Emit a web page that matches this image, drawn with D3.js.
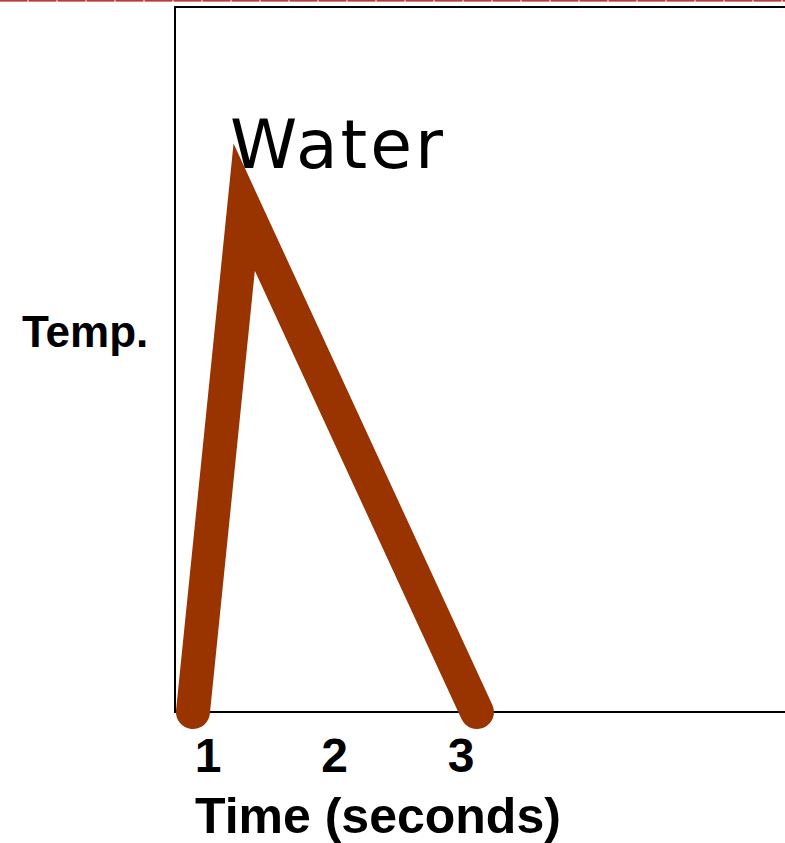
<!DOCTYPE html>
<html>
<head>
<meta charset="utf-8">
<script src="https://cdn.jsdelivr.net/npm/d3@7"></script>
<style>
  html, body { margin: 0; padding: 0; background: #fff; overflow: hidden; }
</style>
</head>
<body>
<div id="container"></div>
<script>
/* CONSTANTS AND GLOBALS */
const width = 785,
      height = 843,
      margin = {top: 7, bottom: 131, left: 175, right: 0};

/* DATA */
const timeValues = [0.885, 1.29, 3.13];
const tempValues = [0, 71.6, 0];
const tickLabels = [1, 2, 3];

const data = timeValues.map((t, i) => ({time: t, temp: tempValues[i]}));

/* APPEND SVG */
const svg = d3.select("#container")
  .append("svg")
    .attr("width", width)
    .attr("height", height);

/* TOP RULE */
svg.append("line")
  .attr("x1", 0).attr("x2", width)
  .attr("y1", 0.5).attr("y2", 0.5)
  .style("stroke", "#d89090")
  .style("stroke-width", 2);
svg.append("line")
  .attr("x1", 0).attr("x2", width)
  .attr("y1", 0.5).attr("y2", 0.5)
  .style("stroke", "#b83c3c")
  .style("stroke-width", 2)
  .style("stroke-dasharray", "27,2");

/* SCALES */
// 1 sits at x=207.5, 126.5px per second
const xScale = d3.scaleLinear()
  .domain([1 - 32.5 / 126.5, 1 + 577.5 / 126.5])
  .range([margin.left, width]);

const yScale = d3.scaleLinear()
  .domain([0, 100])
  .range([height - margin.bottom, margin.top]);

/* FRAME */
svg.append("rect")
  .attr("x", margin.left)
  .attr("y", margin.top)
  .attr("width", width - margin.left + 10)
  .attr("height", yScale(0) - margin.top)
  .style("fill", "none")
  .style("stroke", "#000")
  .style("stroke-width", 2);

/* X AXIS LABELS */
const xAxis = svg.append("g")
  .attr("transform", `translate(0,${yScale(0)})`)
  .call(d3.axisBottom(xScale).tickValues(tickLabels).tickSize(0).tickPadding(0).tickFormat(d3.format("d")));
xAxis.select(".domain").remove();
xAxis.selectAll("text")
  .attr("dy", null)
  .attr("y", 60)
  .style("font-family", "'Liberation Sans', Arial, sans-serif")
  .style("font-weight", "bold")
  .style("font-size", "48px")
  .style("fill", "#000");

/* LINE */
const line = d3.line()
  .x(d => xScale(d.time))
  .y(d => yScale(d.temp));

svg.append("path")
  .datum(data)
  .attr("d", line)
  .style("fill", "none")
  .style("stroke", "#993300")
  .style("stroke-width", 34)
  .style("stroke-linejoin", "miter")
  .style("stroke-miterlimit", 10)
  .style("stroke-linecap", "round");

/* TITLES */
svg.append("text")
  .attr("x", 230)
  .attr("y", 168)
  .style("font-family", "'DejaVu Sans', Verdana, sans-serif")
  .style("font-size", "68px")
  .style("letter-spacing", "3px")
  .style("fill", "#000")
  .text("Water");

svg.append("text")
  .attr("x", 22)
  .attr("y", 347)
  .style("font-family", "'Liberation Sans', Arial, sans-serif")
  .style("font-weight", "bold")
  .style("font-size", "44px")
  .style("fill", "#000")
  .text("Temp.");

svg.append("text")
  .attr("x", 195)
  .attr("y", 833)
  .style("font-family", "'Liberation Sans', Arial, sans-serif")
  .style("font-weight", "bold")
  .style("font-size", "50px")
  .style("fill", "#000")
  .text("Time (seconds)");
</script>
</body>
</html>
